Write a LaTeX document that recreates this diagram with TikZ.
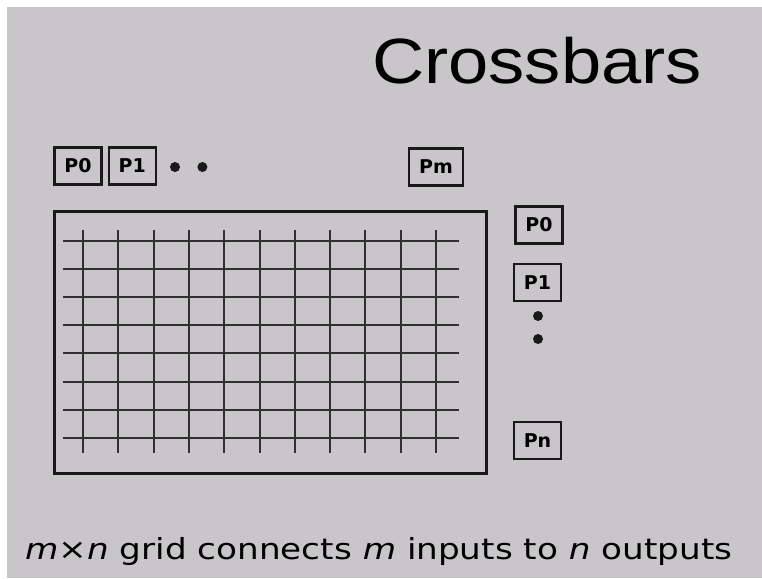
\documentclass[tikz,border=0pt]{standalone}
\usepackage{fontspec}
\usepackage{graphicx}
\usetikzlibrary{positioning}
\newfontfamily\titlefont{Liberation Sans}
\newfontfamily\labelfont{DejaVu Sans}
\newfontfamily\notefont{DejaVu Sans}
\definecolor{slidegray}{RGB}{200,198,201}
\definecolor{ink}{RGB}{25,25,25}

\begin{document}
\begin{tikzpicture}[x=1pt, y=-1pt,
    pbox/.style={draw=ink, line width=2.2pt, minimum width=47pt, minimum height=37pt, inner sep=0pt, font=\labelfont\bfseries\fontsize{19}{19}\selectfont},
    gridline/.style={draw=ink!90, line width=2pt},
    dot/.style={circle, fill=ink, inner sep=0pt, minimum size=10pt}]
    % slide background
    \fill[white] (0,0) rectangle (762,578);
    \fill[slidegray] (7,7) rectangle (762,578);
    \useasboundingbox (0,0) rectangle (762,578);

    % title
    \node[anchor=base west, inner sep=0pt, font=\titlefont\fontsize{64}{64}\selectfont] (title) at (372,83) {\scalebox{1.13}[1]{Crossbars}};

    % inputs
    \node[pbox] (in-p0) at (78,166) {P0};
    \node[pbox, right=5pt of in-p0] (in-p1) {P1};
    \node[dot] (in-dot1) at (175,167) {};
    \node[dot, right=17pt of in-dot1] (in-dot2) {};
    \node[pbox, minimum width=54pt] (in-pm) at (436,167) {Pm};

    % crossbar grid
    \node[draw=ink, line width=3pt, minimum width=432pt, minimum height=262pt] (frame) at (270,342) {};
    \foreach \i in {0,...,10}
        \draw[gridline] ({83+35.3*\i},230) -- ({83+35.3*\i},453);
    \foreach \j in {0,...,7}
        \draw[gridline] (63,{241+28.1*\j}) -- (459,{241+28.1*\j});

    % outputs
    \node[pbox] (out-p0) at (539,225) {P0};
    \node[pbox] (out-p1) at (537.5,282.5) {P1};
    \node[dot] (out-dot1) at (538,316) {};
    \node[dot] (out-dot2) at (538,339) {};
    \node[pbox] (out-pn) at (537.5,440.5) {Pn};

    % caption
    \node[anchor=base west, inner sep=0pt, font=\notefont\fontsize{29}{29}\selectfont] (note) at (25,559) {\scalebox{1.18}[1]{\textit{m}×\textit{n} grid connects \textit{m} inputs to \textit{n} outputs}};
\end{tikzpicture}
\end{document}
